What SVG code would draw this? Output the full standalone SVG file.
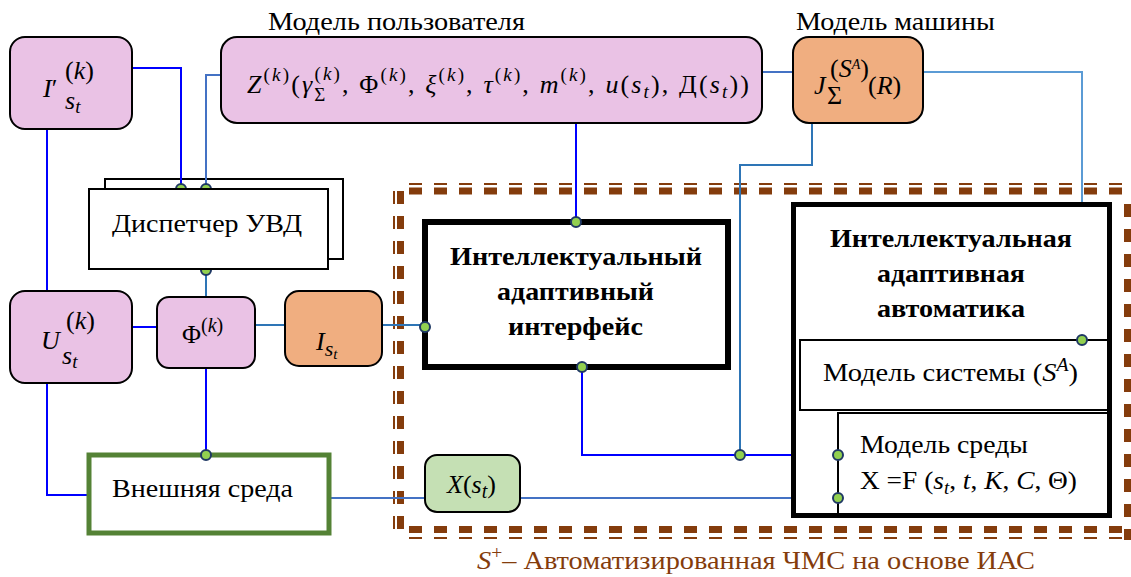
<svg xmlns="http://www.w3.org/2000/svg" width="1131" height="577" viewBox="0 0 1131 577">
<style>
.t{font-family:'Liberation Serif','Times New Roman',serif;font-size:26px;fill:#000}
.b{font-weight:bold}
.i{font-style:italic}
.pk{fill:#EAC2E5;stroke:#000;stroke-width:2}
.or{fill:#F0AE80;stroke:#000;stroke-width:2}
.wb{fill:#fff;stroke:#000;stroke-width:2}
.c1{stroke:#0000FF;stroke-width:2;fill:none}
.c2{stroke:#2E75B6;stroke-width:2;fill:none}
.c3{stroke:#4472C4;stroke-width:2;fill:none}
.c4{stroke:#5B9BD5;stroke-width:2;fill:none}
.dot{fill:#92D050;stroke:#1F3864;stroke-width:2}
.dth{stroke:#843C0C;stroke-width:2;fill:none;stroke-dasharray:13 12}
.dtk{stroke:#843C0C;stroke-width:7;fill:none;stroke-dasharray:13 12}
</style>
<rect width="1131" height="577" fill="#fff"/>
<g id="boundary">
<path class="dth" d="M409 184 H1131"/>
<path class="dtk" d="M409 191 H1131"/>
<path class="dth" d="M394 191 V540"/>
<path class="dtk" d="M400.5 191 V540"/>
<path class="dtk" d="M409 529.5 H1131"/>
<path class="dth" d="M409 538 H1131"/>
<path class="dtk" d="M1127.5 204 V540"/>
</g>
<g id="dispatcher-back"><rect class="wb" x="105" y="179" width="238" height="80"/></g>
<g id="connectors">
<path class="c1" d="M132 68 H181 V189"/>
<path class="c1" d="M47 129 V291"/>
<path class="c1" d="M132 327 H157"/>
<path class="c1" d="M206 368 V455"/>
<path class="c1" d="M47 383 V495 H89"/>
<path class="c1" d="M576 123 V222"/>
<path class="c1" d="M582 367 V455 H838"/>
<path class="c2" d="M206 269 V297"/>
<path class="c2" d="M255 325 H285"/>
<path class="c2" d="M382 325 H425"/>
<path class="c2" d="M812 123 V165 H740 V455"/>
<path class="c3" d="M221 75 H206 V189"/>
<path class="c3" d="M762 72 H793"/>
<path class="c3" d="M330 498 H425"/>
<path class="c3" d="M520 498 H838"/>
<path class="c4" d="M923 72 H1082 V340"/>
<circle class="dot" cx="181" cy="189" r="5"/>
<circle class="dot" cx="206" cy="189" r="5"/>
<circle class="dot" cx="206" cy="270" r="5"/>
</g>
<g id="dispatcher">
<rect class="wb" x="89" y="189" width="239" height="80"/>
<text class="t" x="112" y="232" textLength="190" lengthAdjust="spacingAndGlyphs">Диспетчер УВД</text>
</g>
<g id="label-user"><text class="t" x="268" y="30" textLength="257" lengthAdjust="spacingAndGlyphs">Модель пользователя</text></g>
<g id="label-machine"><text class="t" x="796" y="30" textLength="199" lengthAdjust="spacingAndGlyphs">Модель машины</text></g>
<g id="node-I-prime">
<rect class="pk" x="10" y="37" width="122" height="92" rx="15"/>
<text class="t" x="43" y="97" font-size="40"><tspan class="i">I</tspan>′</text>
<text class="t" x="65" y="79" font-size="27">(<tspan class="i">k</tspan>)</text>
<text class="t i" x="65" y="109" font-size="28">s<tspan font-size="19" dy="4">t</tspan></text>
</g>
<g id="node-Z">
<rect class="pk" x="221" y="37" width="541" height="86" rx="16"/>
<text class="t" x="247" y="93" font-size="27" textLength="502" lengthAdjust="spacing"><tspan class="i">Z</tspan><tspan font-size="19" dy="-12">(<tspan class="i">k</tspan>)</tspan><tspan dy="12">(</tspan><tspan class="i">γ</tspan><tspan font-size="19" dy="8">Σ</tspan><tspan font-size="19" dx="-13" dy="-21">(<tspan class="i">k</tspan>)</tspan><tspan dy="13">, Φ</tspan><tspan font-size="19" dy="-12">(<tspan class="i">k</tspan>)</tspan><tspan dy="12">, </tspan><tspan class="i">ξ</tspan><tspan font-size="19" dy="-12">(<tspan class="i">k</tspan>)</tspan><tspan dy="12">, </tspan><tspan class="i">τ</tspan><tspan font-size="19" dy="-12">(<tspan class="i">k</tspan>)</tspan><tspan dy="12">, </tspan><tspan class="i">m</tspan><tspan font-size="19" dy="-12">(<tspan class="i">k</tspan>)</tspan><tspan dy="12">, </tspan><tspan class="i">u</tspan>(<tspan class="i">s</tspan><tspan class="i" font-size="19" dy="5">t</tspan><tspan dy="-5">), Д(</tspan><tspan class="i">s</tspan><tspan class="i" font-size="19" dy="5">t</tspan><tspan dy="-5">))</tspan></text>
</g>
<g id="node-J">
<rect class="or" x="793" y="37" width="130" height="86" rx="16"/>
<text class="t i" x="814" y="94" font-size="28">J</text>
<text class="t" x="827" y="104" font-size="19">Σ</text>
<text class="t" x="830" y="77" font-size="19">(<tspan class="i">S</tspan><tspan class="i" font-size="14" dy="-8">A</tspan><tspan dy="8">)</tspan></text>
<text class="t" x="868" y="94" font-size="29">(<tspan class="i">R</tspan>)</text>
</g>
<g id="node-U">
<rect class="pk" x="10" y="291" width="122" height="92" rx="15"/>
<text class="t i" x="41" y="349" font-size="38">U</text>
<text class="t" x="66" y="329" font-size="27">(<tspan class="i">k</tspan>)</text>
<text class="t i" x="62" y="364" font-size="28">s<tspan font-size="19" dy="4">t</tspan></text>
</g>
<g id="node-Phi">
<rect class="pk" x="157" y="297" width="98" height="71" rx="12"/>
<text class="t" x="182" y="343" font-size="27">Φ<tspan font-size="20" dy="-11">(<tspan class="i">k</tspan>)</tspan></text>
</g>
<g id="node-Ist">
<rect class="or" x="285" y="291" width="97" height="75" rx="14"/>
<text class="t i" x="316" y="350" font-size="32">I<tspan font-size="22" dy="6">s</tspan><tspan font-size="15" dy="3">t</tspan></text>
</g>
<g id="node-interface">
<rect x="425" y="222" width="303" height="145" fill="#fff" stroke="#000" stroke-width="6"/>
<text class="t b" x="450" y="265" textLength="252" lengthAdjust="spacingAndGlyphs">Интеллектуальный</text>
<text class="t b" x="497" y="300" textLength="157" lengthAdjust="spacingAndGlyphs">адаптивный</text>
<text class="t b" x="508" y="335" textLength="135" lengthAdjust="spacingAndGlyphs">интерфейс</text>
</g>
<g id="node-env">
<rect x="89" y="455" width="240" height="78" fill="#fff" stroke="#548235" stroke-width="5"/>
<text class="t" x="112" y="497" textLength="181" lengthAdjust="spacingAndGlyphs">Внешняя среда</text>
</g>
<g id="node-X">
<rect x="425" y="455" width="95" height="57" rx="12" fill="#C5E0B4" stroke="#000" stroke-width="2"/>
<text class="t" x="447" y="493" font-size="28"><tspan class="i">X</tspan>(<tspan class="i">s</tspan><tspan class="i" font-size="20" dy="5">t</tspan><tspan dy="-5">)</tspan></text>
</g>
<g id="node-automation">
<rect x="793.5" y="204.5" width="316" height="311" fill="#fff" stroke="#000" stroke-width="5"/>
<text class="t b" x="830" y="247" textLength="242" lengthAdjust="spacingAndGlyphs">Интеллектуальная</text>
<text class="t b" x="877" y="282" textLength="148" lengthAdjust="spacingAndGlyphs">адаптивная</text>
<text class="t b" x="877" y="317" textLength="148" lengthAdjust="spacingAndGlyphs">автоматика</text>
<rect class="wb" x="800" y="340" width="308" height="70"/>
<text class="t" x="823" y="381" textLength="255" lengthAdjust="spacingAndGlyphs">Модель системы (<tspan class="i">S</tspan><tspan class="i" font-size="18" dy="-10">A</tspan><tspan dy="10">)</tspan></text>
<rect class="wb" x="838" y="413" width="270" height="101"/>
<text class="t" x="860" y="453" textLength="168" lengthAdjust="spacingAndGlyphs">Модель среды</text>
<text class="t" x="860" y="489" textLength="217" lengthAdjust="spacingAndGlyphs">X =F (<tspan class="i">s</tspan><tspan class="i" font-size="18" dy="5">t</tspan><tspan dy="-5">, </tspan><tspan class="i">t</tspan>, <tspan class="i">K</tspan>, <tspan class="i">C</tspan>, Θ)</text>
</g>
<g id="ports">
<circle class="dot" cx="576" cy="222" r="5"/>
<circle class="dot" cx="425" cy="327" r="5"/>
<circle class="dot" cx="582" cy="367" r="5"/>
<circle class="dot" cx="206" cy="455" r="5"/>
<circle class="dot" cx="740" cy="455" r="5"/>
<circle class="dot" cx="838" cy="455" r="5"/>
<circle class="dot" cx="838" cy="498" r="5"/>
<circle class="dot" cx="1082" cy="340" r="5"/>
</g>
<g id="caption">
<text class="t" x="477" y="569" style="fill:#843C0C" textLength="558" lengthAdjust="spacingAndGlyphs"><tspan class="i">S</tspan><tspan font-size="18" dy="-10">+</tspan><tspan dy="10">– Автоматизированная ЧМС на основе ИАС</tspan></text>
</g>
</svg>
